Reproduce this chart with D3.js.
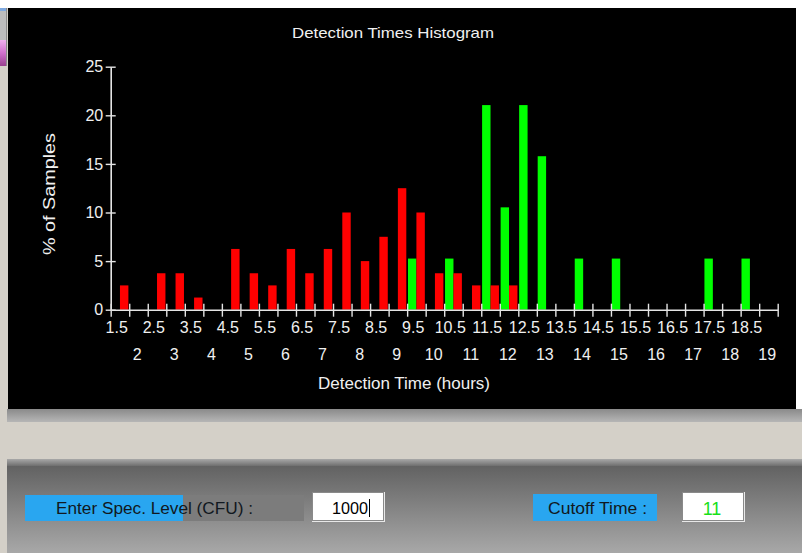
<!DOCTYPE html>
<html>
<head>
<meta charset="utf-8">
<script src="https://cdn.jsdelivr.net/npm/d3@7"></script>
<style>
html, body { margin: 0; padding: 0; background: #d4d0c8; overflow: hidden; }
svg { display: block; font-family: "Liberation Sans", Arial, sans-serif; }
</style>
</head>
<body>
<svg id="chart" width="802" height="553"></svg>
<script>
// Histogram data (% of samples per half-hour bin)
const binStarts = [1, 1.5, 2, 2.5, 3, 3.5, 4, 4.5, 5, 5.5, 6, 6.5, 7, 7.5, 8, 8.5, 9, 9.5,
    10, 10.5, 11, 11.5, 12, 12.5, 13, 13.5, 14, 14.5, 15, 15.5, 16, 16.5, 17, 17.5, 18, 18.5];
const redValues = [2.5, 0, 3.75, 3.75, 1.25, 0, 6.25, 3.75, 2.5, 6.25, 3.75, 6.25, 10, 5, 7.5, 12.5, 10, 3.75,
    3.75, 2.5, 2.5, 2.5, 0, 0, 0, 0, 0, 0, 0, 0, 0, 0, 0, 0, 0, 0];
const greenValues = [0, 0, 0, 0, 0, 0, 0, 0, 0, 0, 0, 0, 0, 0, 0, 0, 5.26, 0,
    5.26, 0, 21.05, 10.53, 21.05, 15.79, 0, 5.26, 0, 5.26, 0, 0, 0, 0, 5.26, 0, 5.26, 0];
const halfTickLabels = ["1.5", "2.5", "3.5", "4.5", "5.5", "6.5", "7.5", "8.5", "9.5", "10.5",
    "11.5", "12.5", "13.5", "14.5", "15.5", "16.5", "17.5", "18.5"];
const intTickLabels = ["2", "3", "4", "5", "6", "7", "8", "9", "10", "11", "12", "13", "14", "15",
    "16", "17", "18", "19"];
const yTicks = [0, 5, 10, 15, 20, 25];

const [axisColor, textColor, redColor, greenColor] = ["#e4e4e4", "#f0f0f0", "#ff0000", "#00ff00"];

const svg = d3.select("#chart");
const defs = svg.append("defs");

function vGrad(id, stops) {
    const g = defs.append("linearGradient").attr("id", id)
        .attr("x1", 0).attr("y1", 0).attr("x2", 0).attr("y2", 1);
    stops.forEach(s => g.append("stop").attr("offset", s[0]).attr("stop-color", s[1]));
}
vGrad("pinkGrad", [[0, "#f0b0ee"], [0.5, "#d070cc"], [1, "#98408e"]]);
vGrad("barGrad", [[0, "#8a8a8a"], [1, "#b6b6b6"]]);
vGrad("edgeGrad", [[0, "#a8a8a8"], [1, "#6e6e6e"]]);
vGrad("panelGrad", [[0, "#626262"], [1, "#a8a8a8"]]);

// window frame bits
svg.append("rect").attr("x", 0).attr("y", 0).attr("width", 802).attr("height", 553).attr("fill", "#d4d0c8");
svg.append("rect").attr("x", 0).attr("y", 0).attr("width", 802).attr("height", 8).attr("fill", "#ffffff");
svg.append("rect").attr("x", 796).attr("y", 0).attr("width", 6).attr("height", 409).attr("fill", "#ffffff");
svg.append("rect").attr("x", 0).attr("y", 8).attr("width", 7).attr("height", 3).attr("fill", "#7fa9e0");
svg.append("rect").attr("x", 0).attr("y", 11).attr("width", 7).attr("height", 29).attr("fill", "#bdbdbd");
svg.append("rect").attr("x", 0).attr("y", 40).attr("width", 7).attr("height", 26).attr("fill", "url(#pinkGrad)");
svg.append("rect").attr("x", 6).attr("y", 8).attr("width", 1).attr("height", 58).attr("fill", "#8c8c8c");

// black plot panel
svg.append("rect").attr("x", 8).attr("y", 8).attr("width", 788).attr("height", 401).attr("fill", "#000000");
svg.append("rect").attr("x", 7).attr("y", 409).attr("width", 795).attr("height", 13).attr("fill", "url(#barGrad)");
svg.append("rect").attr("x", 7).attr("y", 459).attr("width", 795).attr("height", 7).attr("fill", "url(#edgeGrad)");
svg.append("rect").attr("x", 7).attr("y", 466).attr("width", 795).attr("height", 87).attr("fill", "url(#panelGrad)");

// Scales
const xScale = d3.scaleLinear().domain([1, 19]).range([110.7, 777.7]);
const yScale = d3.scaleLinear().domain([0, 25]).range([309.7, 66.7]);
const binW = xScale(1.5) - xScale(1);
const inner = d3.scaleBand().domain(["green", "red"]).range([0, binW]).paddingOuter(0.1);

const plot = svg.append("g");

// Bars
const series = [["green", greenValues, greenColor], ["red", redValues, redColor]];
series.forEach(([key, values, color]) => {
    plot.append("g").selectAll("rect")
        .data(binStarts.map((b, i) => [b, values[i]]).filter(d => d[1] > 0))
        .enter()
        .append("rect")
        .attr("x", d => xScale(d[0]) + inner(key))
        .attr("y", d => yScale(d[1]))
        .attr("width", inner.bandwidth())
        .attr("height", d => yScale(0) - yScale(d[1]))
        .attr("fill", color);
});

// X axis (ticks every half hour)
const xAxis = d3.axisBottom(xScale).tickValues(binStarts.concat([19])).tickFormat("").tickSizeOuter(0);
const gx = plot.append("g").attr("transform", `translate(0, ${yScale(0)})`).call(xAxis);
gx.select(".domain").attr("stroke", axisColor).attr("stroke-width", 1.6);
gx.selectAll(".tick line").attr("stroke", axisColor).attr("stroke-width", 1.4).attr("y1", -6).attr("y2", 7);

// two rows of tick labels
plot.append("g").selectAll("text")
    .data(halfTickLabels)
    .enter()
    .append("text")
    .attr("x", d => xScale(+d) - 12.5)
    .attr("y", 333)
    .attr("text-anchor", "middle")
    .attr("fill", textColor)
    .style("font-size", "16px")
    .text(d => d);

plot.append("g").selectAll("text")
    .data(intTickLabels)
    .enter()
    .append("text")
    .attr("x", d => xScale(+d) - 10.5)
    .attr("y", 360)
    .attr("text-anchor", "middle")
    .attr("fill", textColor)
    .style("font-size", "16px")
    .text(d => d);

// Y axis
const yAxis = d3.axisLeft(yScale).tickValues(yTicks).tickSizeOuter(0);
const gy = plot.append("g").attr("transform", `translate(${xScale(1)}, 0)`).call(yAxis);
gy.select(".domain").attr("stroke", axisColor).attr("stroke-width", 1.6);
gy.selectAll(".tick line").attr("stroke", axisColor).attr("stroke-width", 1.4).attr("x1", 5).attr("x2", -5);
gy.selectAll(".tick text").attr("x", -7.5).attr("fill", textColor)
    .style("font-size", "16px").style("font-family", "'Liberation Sans', Arial, sans-serif");

// Titles
svg.append("text")
    .attr("x", 393).attr("y", 38)
    .attr("text-anchor", "middle")
    .attr("fill", textColor)
    .attr("textLength", 202).attr("lengthAdjust", "spacingAndGlyphs")
    .style("font-size", "15px")
    .text("Detection Times Histogram");

svg.append("text")
    .attr("x", 404).attr("y", 389)
    .attr("text-anchor", "middle")
    .attr("fill", textColor)
    .attr("textLength", 172).attr("lengthAdjust", "spacingAndGlyphs")
    .style("font-size", "16px")
    .text("Detection Time (hours)");

svg.append("text")
    .attr("transform", "translate(55, 194) rotate(-90)")
    .attr("text-anchor", "middle")
    .attr("fill", textColor)
    .attr("textLength", 122).attr("lengthAdjust", "spacingAndGlyphs")
    .style("font-size", "17px")
    .text("% of Samples");

// Bottom controls
const ctl = svg.append("g");
ctl.append("rect").attr("x", 25).attr("y", 495).attr("width", 279).attr("height", 26).attr("fill", "#7c7c7c");
ctl.append("rect").attr("x", 25).attr("y", 495).attr("width", 158).attr("height", 26).attr("fill", "#29a6f0");
ctl.append("text").attr("x", 56).attr("y", 514)
    .attr("fill", "#111820")
    .attr("textLength", 197).attr("lengthAdjust", "spacingAndGlyphs")
    .style("font-size", "16px")
    .text("Enter Spec. Level (CFU) :");

function inputBox(x, w) {
    ctl.append("rect").attr("x", x).attr("y", 492).attr("width", w).attr("height", 30).attr("fill", "#e8e8e8");
    ctl.append("rect").attr("x", x).attr("y", 492).attr("width", w - 1).attr("height", 29).attr("fill", "#8a8a8a");
    ctl.append("rect").attr("x", x + 1).attr("y", 493).attr("width", w - 3).attr("height", 27).attr("fill", "#ffffff");
}
inputBox(312, 73);
ctl.append("text").attr("x", 368).attr("y", 514)
    .attr("text-anchor", "end")
    .attr("fill", "#000000")
    .attr("textLength", 36).attr("lengthAdjust", "spacingAndGlyphs")
    .style("font-size", "16px")
    .text("1000");
ctl.append("line").attr("x1", 369.5).attr("x2", 369.5).attr("y1", 499).attr("y2", 517)
    .attr("stroke", "#000000").attr("stroke-width", 1);

ctl.append("rect").attr("x", 533).attr("y", 494).attr("width", 124).attr("height", 27).attr("fill", "#29a6f0");
ctl.append("text").attr("x", 548).attr("y", 514)
    .attr("fill", "#111820")
    .attr("textLength", 99).attr("lengthAdjust", "spacingAndGlyphs")
    .style("font-size", "16px")
    .text("Cutoff Time :");

inputBox(682, 63);
ctl.append("text").attr("x", 712).attr("y", 515)
    .attr("text-anchor", "middle")
    .attr("fill", "#18e018")
    .style("font-size", "18px")
    .text("11");
</script>
</body>
</html>
